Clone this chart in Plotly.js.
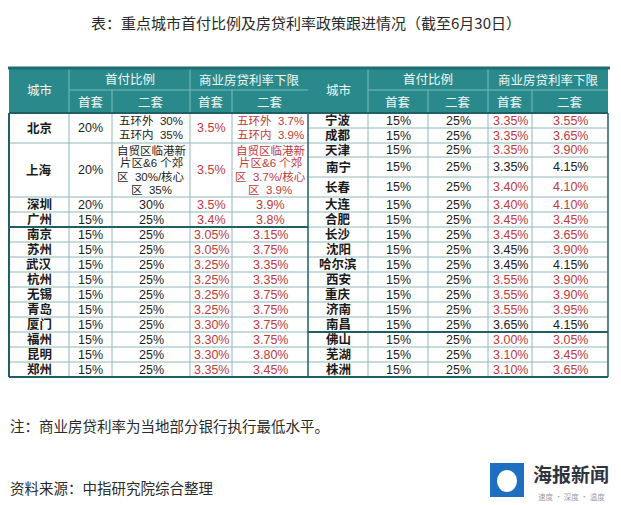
<!DOCTYPE html>
<html><head><meta charset="utf-8">
<script src="https://cdn.plot.ly/plotly-3.0.1.min.js"></script>
<style>html,body{margin:0;padding:0;background:#fff}#chart{width:621px;height:505px}</style>
</head><body><div id="chart"></div>
<script>
// ---------- DATA ----------
const titleText = "表：重点城市首付比例及房贷利率政策跟进情况（截至6月30日）";
const noteText = "注：商业房贷利率为当地部分银行执行最低水平。";
const sourceText = "资料来源：中指研究院综合整理";
const cityHeader = "城市";
const groupHeaders = ["首付比例", "商业房贷利率下限"];
const subHeaders = ["首套", "二套", "首套", "二套"];

const leftCities = ["北京","上海","深圳","广州","南京","苏州","武汉","杭州","无锡","青岛","厦门","福州","昆明","郑州"];
const leftDown1 = ["20%","20%","20%","15%","15%","15%","15%","15%","15%","15%","15%","15%","15%","15%"];
const leftDown2 = ["五环外  30%\n五环内  35%","自贸区临港新\n片区&6 个郊\n区  30%/核心\n区  35%","30%","25%","25%","25%","25%","25%","25%","25%","25%","25%","25%","25%"];
const leftRate1 = ["3.5%","3.5%","3.5%","3.4%","3.05%","3.05%","3.25%","3.25%","3.25%","3.25%","3.30%","3.30%","3.30%","3.35%"];
const leftRate2 = ["五环外  3.7%\n五环内  3.9%","自贸区临港新\n片区&6 个郊\n区  3.7%/核心\n区  3.9%","3.9%","3.8%","3.15%","3.75%","3.35%","3.35%","3.75%","3.75%","3.75%","3.75%","3.80%","3.45%"];
const leftRate1Cut = [true,true,true,true,true,true,true,true,true,true,true,true,true,true];
const leftRate2Cut = [true,true,true,true,true,true,true,true,true,true,true,true,true,true];

const rightCities = ["宁波","成都","天津","南宁","长春","大连","合肥","长沙","沈阳","哈尔滨","西安","重庆","济南","南昌","佛山","芜湖","株洲"];
const rightDown1 = ["15%","15%","15%","15%","15%","15%","15%","15%","15%","15%","15%","15%","15%","15%","15%","15%","15%"];
const rightDown2 = ["25%","25%","25%","25%","25%","25%","25%","25%","25%","25%","25%","25%","25%","25%","25%","25%","25%"];
const rightRate1 = ["3.35%","3.35%","3.35%","3.35%","3.40%","3.40%","3.45%","3.45%","3.45%","3.45%","3.55%","3.55%","3.55%","3.65%","3.00%","3.10%","3.10%"];
const rightRate2 = ["3.55%","3.65%","3.90%","4.15%","4.10%","4.10%","3.45%","3.65%","3.90%","4.15%","3.90%","3.90%","3.95%","4.15%","3.05%","3.45%","3.65%"];
const rightRate1Cut = [true,true,true,false,true,true,true,true,false,false,true,true,true,false,true,true,true];
const rightRate2Cut = [true,true,true,false,true,true,true,true,true,false,true,true,true,false,true,true,true];

// ---------- LAYOUT GEOMETRY ----------
const FONT = "Liberation Sans, Noto Sans CJK SC, sans-serif";
const FONT_T = "Noto Sans CJK SC, sans-serif";
const HEAD_FILL = "#2a898a", HEAD_LINE = "#79bdbd", TOP_LINE = "#1f6d70";
const GRID = "#8fb8bb", THICK = "#1f5f66";
const RED = "#c0393d", BLACK = "#1b1b1b";
const yTop = 68, yMid = 90, yHead = 113, yBot = 377;
const tables = [
  {cols:[9,69,112,190,232,308], heights:[30,54,15,15,15,15,15,15,15,15,15,15,15,15], thickAfter:[3],
   cities:leftCities, d1:leftDown1, d2:leftDown2, r1:leftRate1, r2:leftRate2, c1:leftRate1Cut, c2:leftRate2Cut},
  {cols:[308,368,428,488,532,608], heights:[15,15,14,20,20,15,15,15,15,15,15,15,15,15,15,15,15], thickAfter:[13],
   cities:rightCities, d1:rightDown1, d2:rightDown2, r1:rightRate1, r2:rightRate2, c1:rightRate1Cut, c2:rightRate2Cut}
];

const shapes = [], ann = [];
function line(x0,y0,x1,y1,color,w){shapes.push({type:"line",xref:"x",yref:"y",x0,y0,x1,y1,line:{color,width:w}});}
function rect(x0,y0,x1,y1,fill){shapes.push({type:"rect",xref:"x",yref:"y",x0,y0,x1,y1,fillcolor:fill,line:{width:0},layer:"below"});}
function text(x,y,t,size,color,bold,anchor,fam){
  ann.push({xref:"x",yref:"y",x,y,text:bold?"<b>"+t+"</b>":t,showarrow:false,xanchor:anchor||"center",yanchor:"middle",
    font:{family:fam||FONT,size,color}});
}
function cellText(x,y0,h,str,size,color,bold){
  const parts = str.split("\n");
  const gap = 13.2;
  const c = y0 + h/2;
  parts.forEach((p,i)=>text(x, c + (i-(parts.length-1)/2)*gap, p, parts.length>1?11.5:size, color, bold));
}

tables.forEach(T=>{
  const c = T.cols;
  rect(c[0], yTop, c[5], yHead, HEAD_FILL);
  line(c[1], yMid, c[5], yMid, HEAD_LINE, 1);
  line(c[1], yTop, c[1], yHead, HEAD_LINE, 1);
  line(c[3], yTop, c[3], yHead, HEAD_LINE, 1);
  line(c[2], yMid, c[2], yHead, HEAD_LINE, 1);
  line(c[4], yMid, c[4], yHead, HEAD_LINE, 1);
  text((c[0]+c[1])/2, (yTop+yHead)/2, cityHeader, 12.5, "#f2f8f8");
  text((c[1]+c[3])/2, (yTop+yMid)/2+1, groupHeaders[0], 12.5, "#f2f8f8");
  text((c[3]+c[5])/2, (yTop+yMid)/2+1, groupHeaders[1], 12.5, "#f2f8f8");
  for(let k=0;k<4;k++) text((c[k+1]+c[k+2])/2, (yMid+yHead)/2+1, subHeaders[k], 12.5, "#f2f8f8");
  let y = yHead;
  const rowTops = [];
  T.heights.forEach(h=>{rowTops.push(y); y+=h;});
  for(let k=1;k<5;k++) line(c[k], yHead, c[k], yBot, GRID, 1);
  rowTops.forEach((y0,i)=>{
    const h = T.heights[i];
    if(i>0) line(c[0], y0, c[5], y0, T.thickAfter.includes(i-1)?THICK:GRID, T.thickAfter.includes(i-1)?2:1);
    cellText((c[0]+c[1])/2, y0, h, T.cities[i], 12.5, BLACK, true);
    cellText((c[1]+c[2])/2, y0, h, T.d1[i], 12.5, BLACK, false);
    cellText((c[2]+c[3])/2, y0, h, T.d2[i], 12.5, BLACK, false);
    cellText((c[3]+c[4])/2, y0, h, T.r1[i], 12.5, T.c1[i]?RED:BLACK, false);
    cellText((c[4]+c[5])/2, y0, h, T.r2[i], 12.5, T.c2[i]?RED:BLACK, false);
  });
});
line(8, yTop, 610, yTop, TOP_LINE, 3);
line(9, yHead, 608, yHead, THICK, 2);
line(9, yBot, 608, yBot, THICK, 2);
line(9, yHead, 9, yBot, THICK, 2);
line(608, yHead, 608, yBot, THICK, 1.5);
line(308, yHead, 308, yBot, THICK, 1.5);

text(306, 22, titleText, 15, "#2a2a2a", false, "center", FONT_T);
text(8, 425, noteText, 14.5, "#2a2a2a", false, "left", FONT_T);
text(8, 487, sourceText, 14.5, "#2a2a2a", false, "left", FONT_T);
shapes.push({type:"rect",xref:"x",yref:"y",x0:490,y0:463,x1:524,y1:497,fillcolor:"#1e6fc0",line:{width:0}});
shapes.push({type:"circle",xref:"x",yref:"y",x0:497,y0:470,x1:517,y1:492,fillcolor:"#ffffff",line:{width:0}});
text(571, 473, "海报新闻", 19, "#2d3440", true, "center", FONT_T);
text(571, 496, "速度 · 深度 · 温度", 7.5, "#9aa0a8", false, "center", FONT_T);

const layout = {
  width:621, height:505, margin:{l:0,r:0,t:0,b:0},
  paper_bgcolor:"#ffffff", plot_bgcolor:"#ffffff",
  xaxis:{range:[0,621],visible:false,fixedrange:true},
  yaxis:{range:[505,0],visible:false,fixedrange:true},
  shapes, annotations:ann, showlegend:false
};
Plotly.newPlot("chart", [{type:"scatter",x:[],y:[],hoverinfo:"skip"}], layout, {staticPlot:true,displayModeBar:false});
</script></body></html>
